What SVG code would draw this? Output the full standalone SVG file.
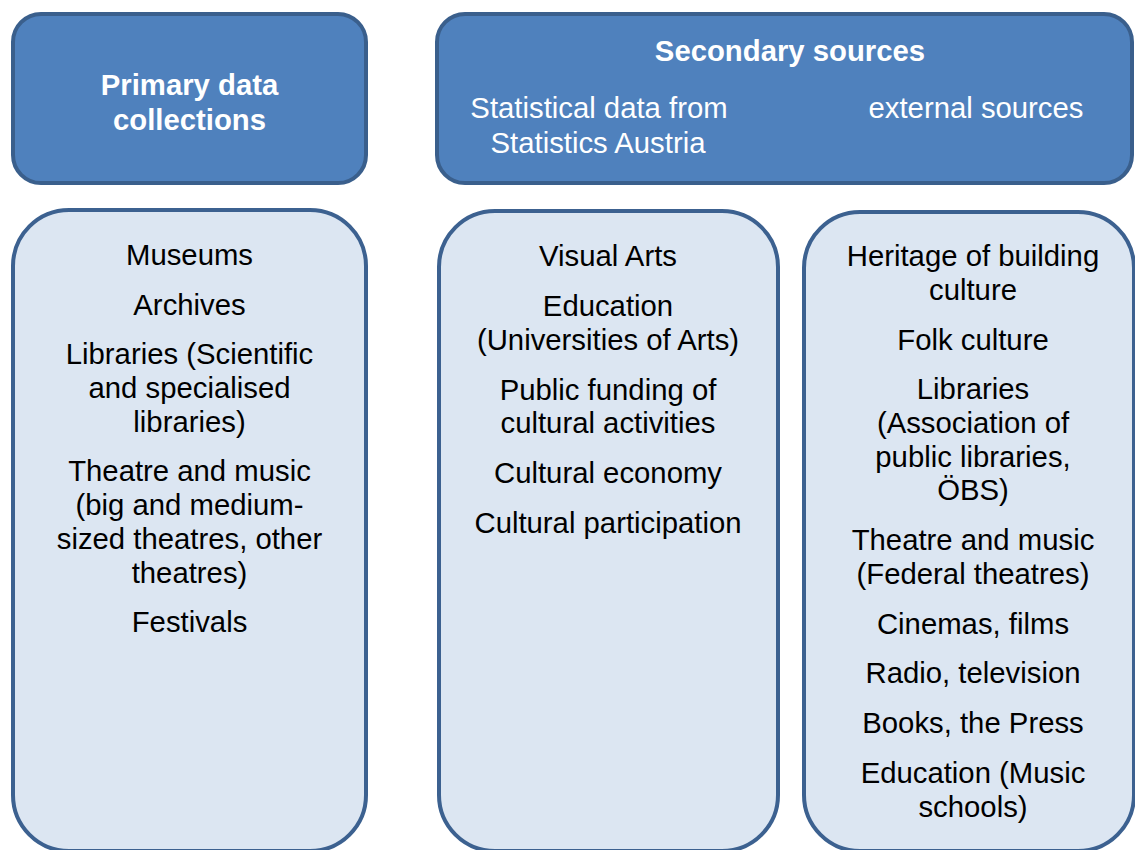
<svg xmlns="http://www.w3.org/2000/svg" width="1135" height="850" viewBox="0 0 1135 850">
<style>
.hdr{fill:#4F81BD;stroke:#3A5F8C;stroke-width:4}
.lst{fill:#DCE6F2;stroke:#3C6190;stroke-width:4}
text{font-family:"Liberation Sans",Arial,sans-serif;font-size:29.3px;text-anchor:middle}
.w{fill:#FFFFFF}
.b{font-weight:bold}
.k{fill:#000000}
</style>
<rect width="1135" height="850" fill="#FFFFFF"/>
<g id="primary-header">
<rect class="hdr" x="13" y="14" width="353" height="169" rx="28" ry="28"/>
<text class="w b" x="189.5" y="95">Primary data</text>
<text class="w b" x="189.5" y="130">collections</text>
</g>
<g id="secondary-header">
<rect class="hdr" x="437" y="14" width="695" height="169" rx="28" ry="28"/>
<text class="w b" x="790" y="61">Secondary sources</text>
<text class="w" x="599" y="118">Statistical data from</text>
<text class="w" x="598" y="153">Statistics Austria</text>
<text class="w" x="976" y="118">external sources</text>
</g>
<g id="primary-list">
<rect class="lst" x="13" y="210" width="353" height="641" rx="56" ry="56"/>
<text class="k" x="189.5" y="265">Museums</text>
<text class="k" x="189.5" y="315">Archives</text>
<text class="k" x="189.5" y="364">Libraries (Scientific</text>
<text class="k" x="189.5" y="398">and specialised</text>
<text class="k" x="189.5" y="432">libraries)</text>
<text class="k" x="189.5" y="481">Theatre and music</text>
<text class="k" x="189.5" y="515">(big and medium-</text>
<text class="k" x="189.5" y="549">sized theatres, other</text>
<text class="k" x="189.5" y="583">theatres)</text>
<text class="k" x="189.5" y="632">Festivals</text>
</g>
<g id="statistics-list">
<rect class="lst" x="439" y="211" width="339" height="640" rx="56" ry="56"/>
<text class="k" x="608" y="266">Visual Arts</text>
<text class="k" x="608" y="316">Education</text>
<text class="k" x="608" y="350">(Universities of Arts)</text>
<text class="k" x="608" y="400">Public funding of</text>
<text class="k" x="608" y="433">cultural activities</text>
<text class="k" x="608" y="483">Cultural economy</text>
<text class="k" x="608" y="533">Cultural participation</text>
</g>
<g id="external-list">
<rect class="lst" x="804" y="212" width="330" height="639" rx="56" ry="56"/>
<text class="k" x="973" y="266">Heritage of building</text>
<text class="k" x="973" y="300">culture</text>
<text class="k" x="973" y="350">Folk culture</text>
<text class="k" x="973" y="399">Libraries</text>
<text class="k" x="973" y="433">(Association of</text>
<text class="k" x="973" y="467">public libraries,</text>
<text class="k" x="973" y="500">ÖBS)</text>
<text class="k" x="973" y="550">Theatre and music</text>
<text class="k" x="973" y="584">(Federal theatres)</text>
<text class="k" x="973" y="634">Cinemas, films</text>
<text class="k" x="973" y="683">Radio, television</text>
<text class="k" x="973" y="733">Books, the Press</text>
<text class="k" x="973" y="783">Education (Music</text>
<text class="k" x="973" y="817">schools)</text>
</g>
<g id="connectors"/>
</svg>
